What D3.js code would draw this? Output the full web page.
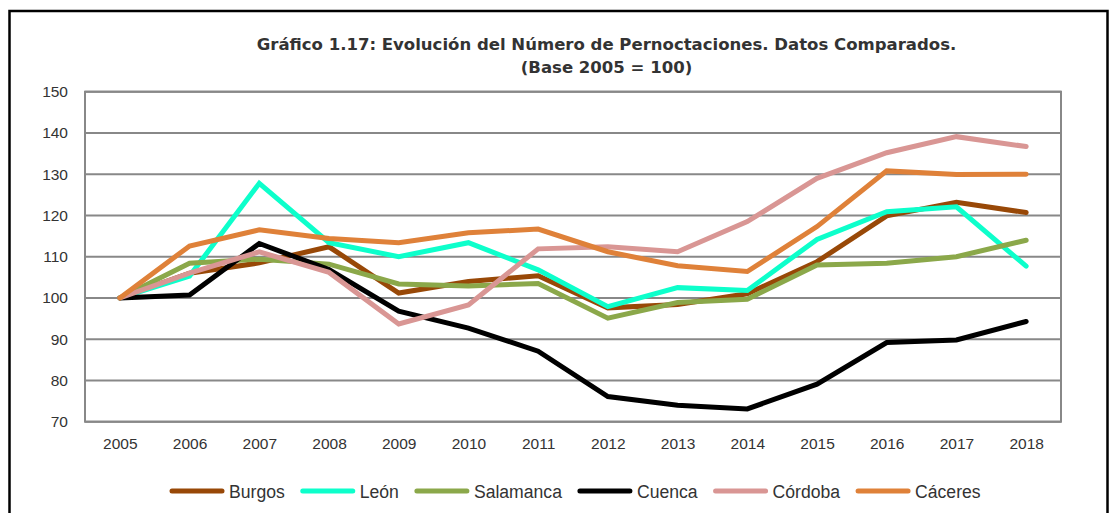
<!DOCTYPE html>
<html><head><meta charset="utf-8">
<script src="https://cdn.jsdelivr.net/npm/d3@7"></script>
<style>body{margin:0;background:#fff}svg{display:block}</style>
</head><body>
<svg id="c" width="1113" height="513"></svg>
<script>
const years = ["2005","2006","2007","2008","2009","2010","2011","2012","2013","2014","2015","2016","2017","2018"];
const yTicks = [70,80,90,100,110,120,130,140,150];
const burgos    = [100,106.0,108.5,112.4,101.2,104.0,105.4,97.6,98.4,101.0,108.8,119.9,123.2,120.7];
const leon      = [100,105.3,127.8,113.4,110.0,113.4,106.8,97.9,102.5,101.8,114.2,120.9,122.1,107.7];
const salamanca = [100,108.4,109.4,108.2,103.4,102.9,103.5,95.1,98.9,99.7,108.0,108.4,110.0,114.0];
const cuenca    = [100,100.7,113.2,106.9,96.8,92.7,87.1,76.1,74.0,73.1,79.1,89.2,89.8,94.3];
const cordoba   = [100,106.0,111.2,106.2,93.7,98.3,111.9,112.4,111.2,118.5,129.0,135.2,139.1,136.7];
const caceres   = [100,112.6,116.5,114.4,113.4,115.8,116.7,111.2,107.8,106.4,117.3,130.8,129.9,130.0];
const seriesNames = ["Burgos","León","Salamanca","Cuenca","Córdoba","Cáceres"];
const seriesColors = ["#984807","#0DFFCB","#8BA84A","#000000","#D99694","#DF8139"];
const seriesValues = [burgos, leon, salamanca, cuenca, cordoba, caceres];

const svg = d3.select("#c");
const font = "'Liberation Sans', Arial, sans-serif";
const tfont = "'DejaVu Sans', Verdana, sans-serif";

// frame
svg.append("rect").attr("x",9.5).attr("y",11).attr("width",1098).attr("height",520)
  .attr("fill","none").attr("stroke","#000").attr("stroke-width",2.5);

// title
function fitTitle(txt, yy){
  return svg.append("text").attr("x",606.5).attr("y",yy).attr("text-anchor","middle")
    .attr("font-family",tfont).attr("font-weight","bold").attr("font-size",16).attr("fill","#333")
    .text(txt);
}
const t1 = fitTitle("Gráfico 1.17: Evolución del Número de Pernoctaciones. Datos Comparados.", 50);
const w1 = t1.node().getComputedTextLength();
const fs = 16 * 700 / w1;
t1.attr("font-size", fs);
fitTitle("(Base 2005 = 100)", 72.5).attr("font-size", fs);

const L = 85, R = 1061, T = 91.7, B = 421.7;
const x = d3.scalePoint().domain(years).range([L,R]).padding(0.5);
const y = d3.scaleLinear().domain([70,150]).range([B,T]);

// grid
const g = svg.append("g");
g.selectAll("line.grid").data(yTicks).join("line")
  .attr("x1",L).attr("x2",R).attr("y1",d=>y(d)).attr("y2",d=>y(d))
  .attr("stroke","#888888").attr("stroke-width",2);
g.append("rect").attr("x",L).attr("y",T).attr("width",R-L).attr("height",B-T)
  .attr("fill","none").attr("stroke","#888888").attr("stroke-width",2);

// axes
const yAxis = d3.axisLeft(y).tickValues(yTicks).tickSize(0).tickPadding(17);
const ya = svg.append("g").attr("transform",`translate(${L},0)`).call(yAxis);
ya.select(".domain").remove();
ya.selectAll("text").attr("font-family",font).attr("font-size",15.5).attr("fill","#333");

const xAxis = d3.axisBottom(x).tickSize(0).tickPadding(16);
const xa = svg.append("g").attr("transform",`translate(0,${B})`).call(xAxis);
xa.select(".domain").remove();
xa.selectAll("text").attr("font-family",font).attr("font-size",15.5).attr("fill","#333");

// lines
const line = d3.line().x((d,i)=>x(years[i])).y(d=>y(d));
seriesValues.forEach((vals,k)=>{
  svg.append("path").datum(vals).attr("d",line).attr("fill","none")
    .attr("stroke",seriesColors[k]).attr("stroke-width",5)
    .attr("stroke-linejoin","miter").attr("stroke-linecap","round");
});

// legend
const lg = svg.append("g");
let lx = 172; const ly = 491;
seriesNames.forEach((n,k)=>{
  lg.append("line").attr("x1",lx).attr("x2",lx+50).attr("y1",ly).attr("y2",ly)
    .attr("stroke",seriesColors[k]).attr("stroke-width",5).attr("stroke-linecap","round");
  const t = lg.append("text").attr("x",lx+57).attr("y",ly+6.5).attr("font-family",font)
    .attr("font-size",17.6).attr("fill","#333").text(n);
  lx += 57 + t.node().getComputedTextLength() + 18;
});
</script>
</body></html>
